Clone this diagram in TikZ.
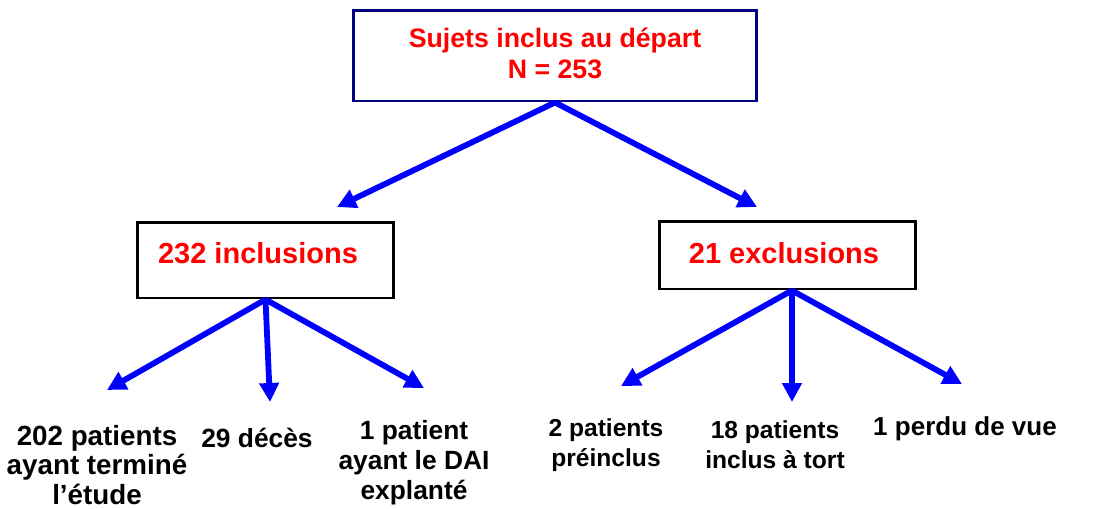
\documentclass[tikz,border=0pt]{standalone}
\usepackage{fontspec}
\setmainfont{Liberation Sans}
\usepackage{tikz}
\usetikzlibrary{arrows.meta}

\definecolor{navy}{RGB}{0,0,128}
\definecolor{arrblue}{RGB}{0,0,255}
\definecolor{titred}{RGB}{255,0,0}

\tikzset{
  box/.style={draw, line width=1.7pt, fill=white, inner sep=0pt},
  redtxt/.style={text=titred, font=\bfseries\fontsize{16.5}{19}\selectfont, align=center, inner sep=0pt},
  blktxt/.style={text=black, font=\bfseries\fontsize{15}{17}\selectfont, align=center, inner sep=0pt},
  arr/.style={draw=arrblue, line width=3.3pt, -{Triangle[length=0.38cm,width=0.38cm]}}
}

\begin{document}
\begin{tikzpicture}[x=0.02cm, y=-0.02cm]
            \useasboundingbox (0,0) rectangle (1113,508);
            % boxes
            \node[box, draw=navy, minimum width=8.08cm, minimum height=1.82cm] (start) at (555,55.5) {};
            \node[redtxt, font=\bfseries\fontsize{15.2}{17.5}\selectfont] (startlab) at (555,53) {Sujets inclus au départ\\N = 253};
            \node[box, minimum width=5.14cm, minimum height=1.52cm] (inc) at (265.5,260) {};
            \node[redtxt] (inclab) at (258,253) {232 inclusions};
            \node[box, minimum width=5.14cm, minimum height=1.36cm] (exc) at (787.5,255) {};
            \node[redtxt] (exclab) at (784,253) {21 exclusions};
            % outcomes
            \node[blktxt, font=\bfseries\fontsize{15.8}{17}\selectfont] (fin) at (97,465) {202 patients\\ayant terminé\\l’étude};
            \node[blktxt] (dec) at (257,438) {29 décès};
            \node[blktxt] (dai) at (414,463) {1 patient\\ayant le DAI\\explanté};
            \node[blktxt, font=\bfseries\fontsize{14}{17}\selectfont] (pre) at (606,445) {2 patients\\préinclus};
            \node[blktxt, font=\bfseries\fontsize{14}{17}\selectfont] (tort) at (775,445) {18 patients\\inclus à tort};
            \node[blktxt, font=\bfseries\fontsize{14.8}{17}\selectfont] (perdu) at (965,429) {1 perdu de vue};
            % arrow tips
            \coordinate (t1) at (337,207);
            \coordinate (t2) at (757,207);
            \coordinate (t3) at (107,390);
            \coordinate (t4) at (270,402);
            \coordinate (t5) at (424,388);
            \coordinate (t6) at (621,386);
            \coordinate (t7) at (792,402);
            \coordinate (t8) at (962,384);
            \draw[arr] (start.south) -- (t1);
            \draw[arr] (start.south) -- (t2);
            \draw[arr] (inc.south) -- (t3);
            \draw[arr] (inc.south) -- (t4);
            \draw[arr] (inc.south) -- (t5);
            \draw[arr] ([xshift=2.5]exc.south) -- (t6);
            \draw[arr] ([xshift=2.5]exc.south) -- (t7);
            \draw[arr] ([xshift=2.5]exc.south) -- (t8);
\end{tikzpicture}
\end{document}
